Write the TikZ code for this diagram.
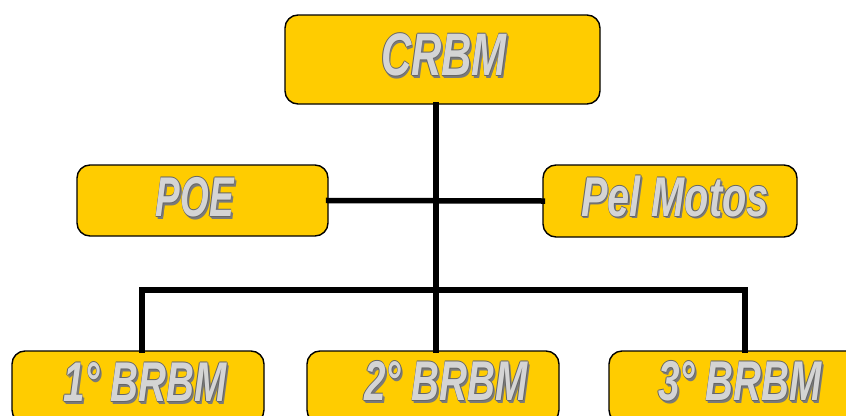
\documentclass[tikz,border=0pt]{standalone}
\usepackage{fontspec}
\setmainfont{Liberation Sans}
\usetikzlibrary{calc}
\definecolor{boxyellow}{HTML}{FFCC00}
\definecolor{shd}{HTML}{7A7A7A}
\definecolor{edg}{HTML}{666666}
\definecolor{face}{HTML}{D4D4D4}
\newcommand\wa[3][56]{\scalebox{#2}[1]{\fontsize{#1}{#1}\selectfont\bfseries\itshape
\rlap{\kern2.6pt\raisebox{-2.6pt}{\textcolor{shd}{#3}}}%
\rlap{\kern1.7pt\raisebox{-1.7pt}{\textcolor{shd}{#3}}}%
\rlap{\kern-0.9pt\textcolor{edg}{#3}}%
\rlap{\kern0.9pt\textcolor{edg}{#3}}%
\rlap{\raisebox{0.9pt}{\textcolor{edg}{#3}}}%
\rlap{\raisebox{-0.9pt}{\textcolor{edg}{#3}}}%
\textcolor{face}{#3}}}
\tikzset{
  unit/.style={draw=black, line width=1.4pt, fill=boxyellow, rounded corners=13pt, inner sep=0pt},
  lbl/.style={inner sep=0pt, anchor=center},
  link/.style={line width=5.5pt, line join=miter, line cap=rect}
}
\begin{document}
\begin{tikzpicture}[x=1pt, y=-1pt]
\useasboundingbox (0,0) rectangle (846,415);
\node[unit, minimum width=315pt, minimum height=89pt] (crbm) at (442.5,59.5) {};
\node[unit, minimum width=251pt, minimum height=71pt] (poe) at (202.5,200.5) {};
\node[unit, minimum width=254pt, minimum height=72pt] (pel) at (670,201) {};
\node[unit, minimum width=252pt, minimum height=72pt] (b1) at (138,387) {};
\node[unit, minimum width=252pt, minimum height=72pt] (b2) at (433,387) {};
\node[unit, minimum width=252pt, minimum height=72pt] (b3) at (735,387) {};
\coordinate (j) at (436,290);
\coordinate (jl) at (142,290);
\coordinate (jr) at (745,290);
\draw[link] (crbm.south -| j) -- (j);
\draw[link] (poe.east) -- (pel.west);
\draw[link] (b1.north -| jl) -- (jl) -- (jr) -- (b3.north -| jr);
\draw[link] (j) -- (b2.north -| j);
\node[lbl] (tcrbm) at (444,56) {\wa[60]{0.7}{CRBM}};
\node[lbl] (tpoe) at (195,198) {\wa{0.66}{POE}};
\node[lbl] (tpel) at (675,197) {\wa{0.71}{Pel Motos}};
\node[lbl] (tb1) at (145,383) {\wa{0.69}{1° BRBM}};
\node[lbl] (tb2) at (446,382) {\wa{0.69}{2° BRBM}};
\node[lbl] (tb3) at (740,382) {\wa{0.69}{3° BRBM}};
\end{tikzpicture}
\end{document}
